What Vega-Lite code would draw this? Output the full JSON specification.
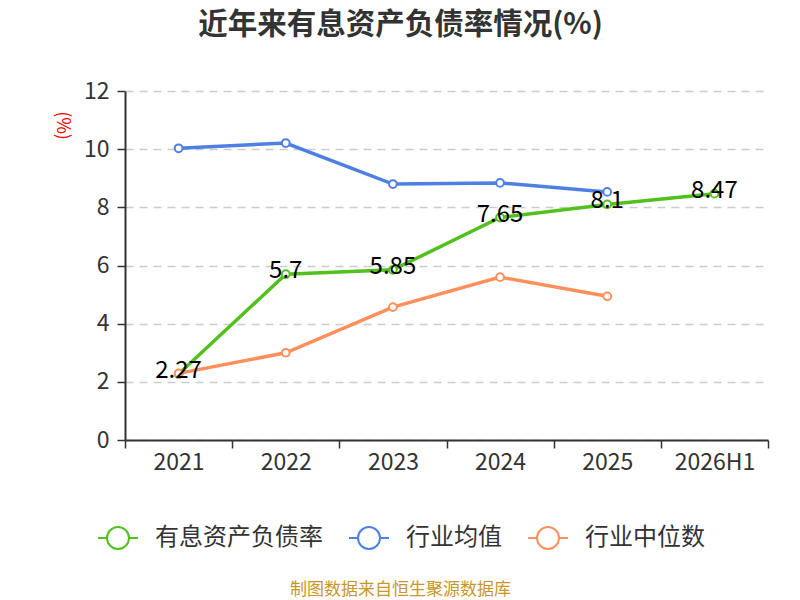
{
  "$schema": "https://vega.github.io/schema/vega-lite/v6.json",
  "autosize": "none",
  "width": 643,
  "height": 349,
  "padding": {"left": 125, "top": 91, "right": 32, "bottom": 160},
  "background": "white",
  "config": {
    "font": "Noto Sans CJK SC",
    "view": {"stroke": null}
  },
  "title": {
    "text": "近年来有息资产负债率情况(%)",
    "fontSize": 29.5,
    "fontWeight": "bold",
    "color": "#333333",
    "anchor": "middle",
    "frame": "group",
    "dx": -46,
    "offset": 40
  },
  "data": {
    "values": [
      {"period": "2021", "series": "有息资产负债率", "value": 2.27},
      {"period": "2022", "series": "有息资产负债率", "value": 5.7},
      {"period": "2023", "series": "有息资产负债率", "value": 5.85},
      {"period": "2024", "series": "有息资产负债率", "value": 7.65},
      {"period": "2025", "series": "有息资产负债率", "value": 8.1},
      {"period": "2026H1", "series": "有息资产负债率", "value": 8.47},
      {"period": "2021", "series": "行业均值", "value": 10.03},
      {"period": "2022", "series": "行业均值", "value": 10.21},
      {"period": "2023", "series": "行业均值", "value": 8.8},
      {"period": "2024", "series": "行业均值", "value": 8.84},
      {"period": "2025", "series": "行业均值", "value": 8.53},
      {"period": "2021", "series": "行业中位数", "value": 2.29},
      {"period": "2022", "series": "行业中位数", "value": 3.0},
      {"period": "2023", "series": "行业中位数", "value": 4.57},
      {"period": "2024", "series": "行业中位数", "value": 5.6},
      {"period": "2025", "series": "行业中位数", "value": 4.94}
    ]
  },
  "encoding": {
    "x": {
      "field": "period",
      "type": "ordinal",
      "sort": ["2021", "2022", "2023", "2024", "2025", "2026H1"],
      "bandPosition": 0.5,
      "scale": {"type": "band", "paddingInner": 0, "paddingOuter": 0},
      "axis": {
        "labelAngle": 0,
        "tickBand": "extent",
        "labelFontSize": 23,
        "labelColor": "#333333",
        "labelPadding": 3,
        "tickSize": 8,
        "tickColor": "#333333",
        "tickWidth": 1.5,
        "domainColor": "#333333",
        "domainWidth": 2,
        "grid": false,
        "title": "制图数据来自恒生聚源数据库",
        "titleFontSize": 17,
        "titleFontWeight": "normal",
        "titleColor": "#c8962a",
        "titleX": 275,
        "titleY": 149,
        "titleAlign": "center",
        "titleBaseline": "middle"
      }
    },
    "y": {
      "field": "value",
      "type": "quantitative",
      "scale": {"domain": [0, 12], "nice": false},
      "axis": {
        "values": [0, 2, 4, 6, 8, 10, 12],
        "labelFontSize": 23,
        "labelColor": "#333333",
        "labelPadding": 8,
        "tickSize": 8,
        "tickColor": "#333333",
        "tickWidth": 1.5,
        "domainColor": "#333333",
        "domainWidth": 2,
        "gridColor": "#cccccc",
        "gridDash": [8, 6],
        "gridWidth": 1.5,
        "title": "(%)",
        "titleAngle": 90,
        "titleColor": "#ff0000",
        "titleFontSize": 18,
        "titleFontWeight": "normal",
        "titleX": -64,
        "titleY": 34,
        "titleAlign": "center",
        "titleBaseline": "middle"
      }
    }
  },
  "layer": [
    {
      "mark": {"type": "line", "strokeWidth": 3.5},
      "encoding": {
        "stroke": {
          "field": "series",
          "type": "nominal",
          "scale": {
            "domain": ["有息资产负债率", "行业均值", "行业中位数"],
            "range": ["#52c11d", "#4e80e3", "#ff8f5b"]
          },
          "legend": {
            "orient": "none",
            "direction": "horizontal",
            "legendX": -28,
            "legendY": 426,
            "title": null,
            "symbolType": "M-1,0H-0.55M0.55,0H1M0.55,0A0.55,0.55,0,1,1,-0.55,0A0.55,0.55,0,1,1,0.55,0",
            "symbolSize": 1600,
            "symbolStrokeWidth": 2,
            "symbolFillColor": "white",
            "labelFontSize": 24,
            "labelLimit": 400,
            "labelColor": "#333333",
            "labelOffset": 16,
            "columnPadding": 22
          }
        }
      }
    },
    {
      "mark": {"type": "point", "filled": true, "fill": "white", "size": 60, "strokeWidth": 2, "opacity": 1},
      "encoding": {
        "stroke": {"field": "series", "type": "nominal", "legend": null}
      }
    },
    {
      "transform": [{"filter": "datum.series === '有息资产负债率'"}],
      "mark": {"type": "text", "fontSize": 24, "color": "#000000", "baseline": "middle", "dy": -3},
      "encoding": {
        "text": {"field": "value", "type": "quantitative"}
      }
    }
  ]
}
